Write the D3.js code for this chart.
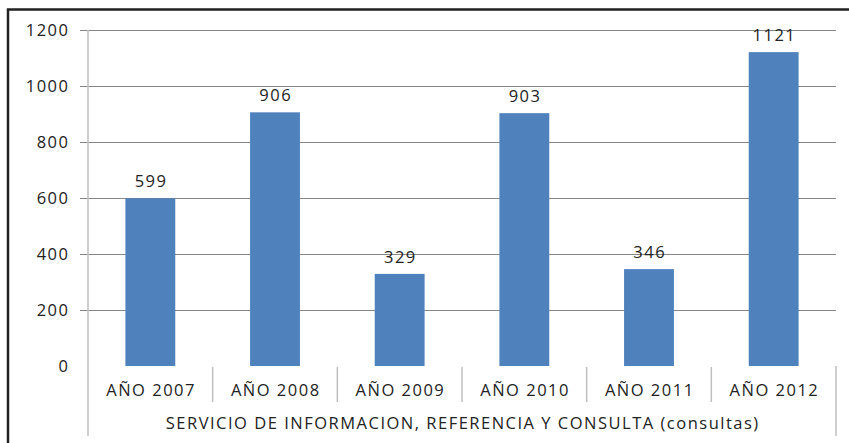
<!DOCTYPE html>
<meta charset="utf-8">
<title>Servicio de informacion</title>
<style>
  html, body { margin: 0; background: #fff; }
  svg { display: block; font-family: 'Open Sans', Lato, sans-serif; }
  svg text { letter-spacing: 1.5px; }
  .grid line { stroke: #868686; stroke-width: 1px; }
  .sep { stroke: #bfbfbf; stroke-width: 1.5px; }
</style>
<body>
<script src="https://d3js.org/d3.v7.min.js"></script>
<script>
// data
var categories = ["AÑO 2007", "AÑO 2008", "AÑO 2009", "AÑO 2010", "AÑO 2011", "AÑO 2012"];
var values = [599, 906, 329, 903, 346, 1121];
var yTicks = [0, 200, 400, 600, 800, 1000, 1200];
var axisTitle = "SERVICIO DE INFORMACION, REFERENCIA Y CONSULTA (consultas)";

var W = 849, H = 443;
var plot = {left: 88, right: 836, top: 30, bottom: 366};
var fs = 16.5;

var svg = d3.select("body").append("svg")
    .attr("width", W)
    .attr("height", H);

// frame
svg.append("rect")
    .attr("x", 8).attr("y", 9.5)
    .attr("width", W + 10).attr("height", H + 10)
    .attr("fill", "none")
    .attr("stroke", "#222")
    .attr("stroke-width", 2.5);

var x = d3.scaleBand().domain(categories).range([plot.left, plot.right]).paddingInner(0.6).paddingOuter(0.3);
var xb = d3.scaleBand().domain(categories).range([plot.left, plot.right]);
var y = d3.scaleLinear().domain([0, 1200]).range([plot.bottom, plot.top]);

// gridlines
svg.append("g").attr("class", "grid")
  .selectAll("line").data(yTicks.slice(1)).join("line")
    .attr("x1", plot.left - 8).attr("x2", plot.right)
    .attr("y1", function(d) { return Math.round(y(d)) + 0.5; })
    .attr("y2", function(d) { return Math.round(y(d)) + 0.5; });

// y labels
svg.append("g").selectAll("text").data(yTicks).join("text")
    .attr("x", 69.5)
    .attr("y", function(d) { return y(d); })
    .attr("dy", "0.35em")
    .attr("text-anchor", "end")
    .attr("font-size", fs)
    .attr("fill", "#222")
    .text(function(d) { return d; });

// bars
svg.append("g").selectAll("rect").data(values).join("rect")
    .attr("x", function(d, i) { return x(categories[i]); })
    .attr("width", x.bandwidth())
    .attr("y", function(d) { return y(d); })
    .attr("height", function(d) { return y(0) - y(d); })
    .attr("fill", "#4f81bd");

// value labels
svg.append("g").selectAll("text").data(values).join("text")
    .attr("x", function(d, i) { return x(categories[i]) + x.bandwidth() / 2 + 0.75; })
    .attr("y", function(d) { return y(d) - 11; })
    .attr("text-anchor", "middle")
    .attr("font-size", fs)
    .attr("fill", "#222")
    .text(function(d) { return d; });

// axes
svg.append("line").attr("class", "sep")
    .attr("x1", plot.left).attr("x2", plot.left)
    .attr("y1", plot.top).attr("y2", 436);
svg.append("line").attr("class", "sep")
    .attr("x1", plot.right).attr("x2", plot.right)
    .attr("y1", 366).attr("y2", 436);
svg.append("g").selectAll("line").data(categories.slice(1)).join("line")
    .attr("class", "sep")
    .attr("x1", function(d) { return xb(d); })
    .attr("x2", function(d) { return xb(d); })
    .attr("y1", 367).attr("y2", 402);

// category labels
svg.append("g").selectAll("text").data(categories).join("text")
    .attr("x", function(d) { return xb(d) + xb.bandwidth() / 2 + 0.75; })
    .attr("y", 396)
    .attr("text-anchor", "middle")
    .attr("font-size", fs)
    .attr("fill", "#222")
    .text(function(d) { return d; });

svg.append("text")
    .attr("x", (plot.left + plot.right) / 2 + 0.75)
    .attr("y", 429)
    .attr("text-anchor", "middle")
    .attr("font-size", fs)
    .attr("fill", "#222")
    .text(axisTitle);
</script>
</body>
